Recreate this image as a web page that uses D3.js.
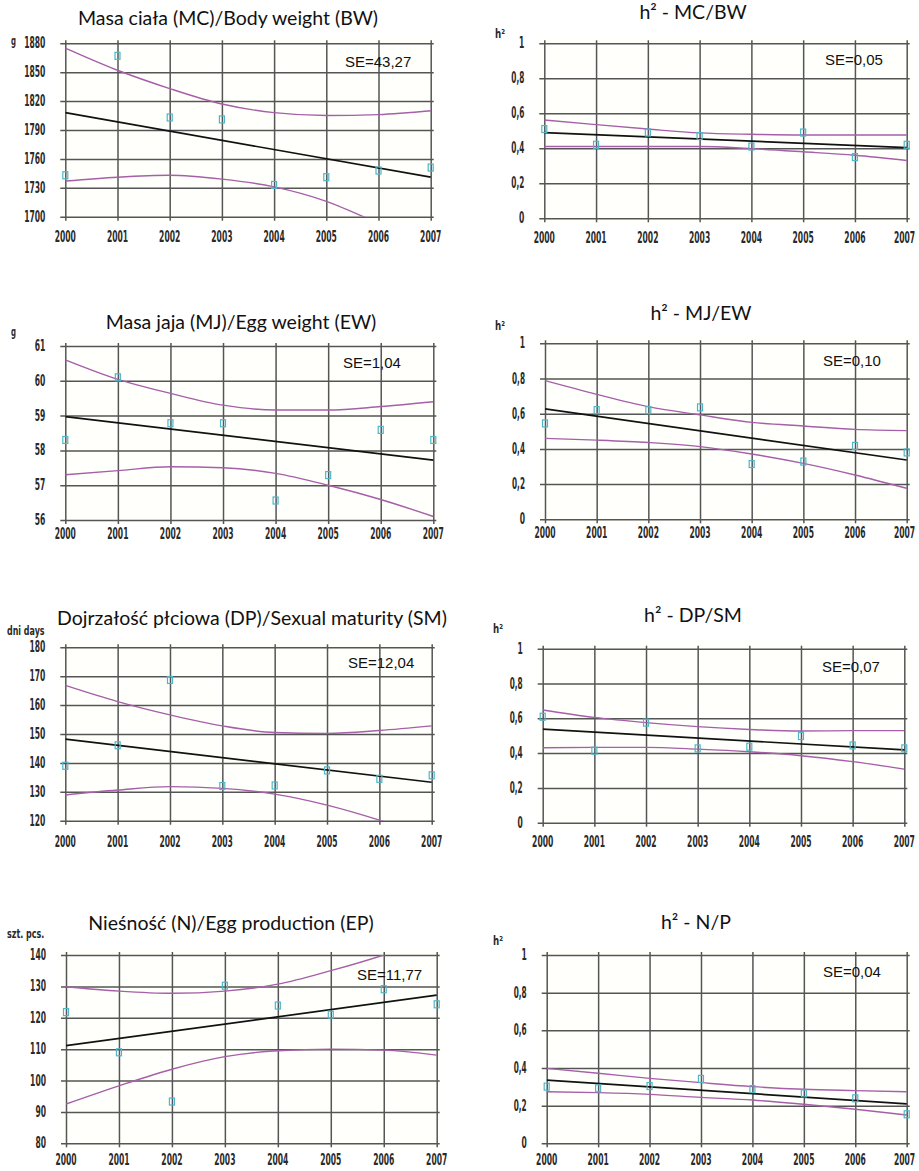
<!DOCTYPE html>
<html>
<head>
<meta charset="utf-8">
<script src="https://cdn.jsdelivr.net/npm/d3@7"></script>
<style>
  html, body { margin: 0; padding: 0; background: #ffffff; }
  svg { display: block; }
</style>
</head>
<body>
<svg id="chart" width="919" height="1171"></svg>
<script>
// ---------------- DATA ----------------
const years = [2000, 2001, 2002, 2003, 2004, 2005, 2006, 2007];
const trendYears = [2000, 2007];

// Body weight (g)
const bwTicks = [1700, 1730, 1760, 1790, 1820, 1850, 1880];
const bwPoints = [1743, 1867, 1803, 1801, 1733, 1741, 1748, 1751];
const bwTrend = [1808, 1741];
const bwUpper = [1875, 1852, 1833, 1817, 1808, 1805, 1806, 1810];
const bwLower = [1737, 1741, 1743, 1739, 1731, 1716, 1693, 1668];

// h2 body weight
const h2Ticks = [0, 0.2, 0.4, 0.6, 0.8, 1];
const h2bwPoints = [0.51, 0.42, 0.49, 0.47, 0.41, 0.49, 0.35, 0.42];
const h2bwTrend = [0.49, 0.404];
const h2bwUpper = [0.562, 0.535, 0.51, 0.488, 0.48, 0.476, 0.476, 0.476];
const h2bwLower = [0.41, 0.41, 0.41, 0.41, 0.398, 0.38, 0.36, 0.33];

// Egg weight (g)
const ewTicks = [56, 57, 58, 59, 60, 61];
const ewPoints = [58.3, 60.1, 58.78, 58.78, 56.56, 57.29, 58.59, 58.3];
const ewTrend = [58.97, 57.72];
const ewUpper = [60.6, 60.04, 59.64, 59.3, 59.16, 59.16, 59.26, 59.4];
const ewLower = [57.3, 57.42, 57.53, 57.5, 57.34, 57.0, 56.59, 56.1];

// h2 egg weight
const h2ewPoints = [0.545, 0.62, 0.62, 0.636, 0.314, 0.328, 0.417, 0.38];
const h2ewTrend = [0.627, 0.337];
const h2ewUpper = [0.788, 0.71, 0.64, 0.593, 0.551, 0.53, 0.511, 0.504];
const h2ewLower = [0.46, 0.45, 0.436, 0.413, 0.371, 0.318, 0.252, 0.176];

// Sexual maturity (days)
const smTicks = [120, 130, 140, 150, 160, 170, 180];
const smPoints = [139.0, 146.1, 168.7, 132.0, 132.2, 137.4, 134.5, 135.7];
const smTrend = [148.2, 133.3];
const smUpper = [166.8, 161.2, 156.6, 152.8, 150.5, 150.2, 151.2, 152.8];
const smLower = [128.9, 130.6, 131.8, 131.2, 129.2, 125.4, 120.2, 114.0];

// h2 sexual maturity
const h2smPoints = [0.609, 0.414, 0.575, 0.427, 0.437, 0.498, 0.444, 0.427];
const h2smTrend = [0.538, 0.418];
const h2smUpper = [0.648, 0.605, 0.575, 0.552, 0.536, 0.527, 0.529, 0.529];
const h2smLower = [0.431, 0.433, 0.433, 0.423, 0.408, 0.385, 0.351, 0.308];

// Egg production (pcs)
const epTicks = [80, 90, 100, 110, 120, 130, 140];
const epPoints = [121.8, 109.0, 93.3, 130.2, 123.9, 121.0, 129.1, 124.3];
const epTrend = [111.1, 127.2];
const epUpper = [129.9, 128.5, 127.8, 128.5, 130.7, 135.0, 140.0, 146.0];
const epLower = [92.5, 98.3, 103.6, 107.6, 109.5, 110.0, 109.7, 108.1];

// h2 egg production
const h2epPoints = [0.301, 0.292, 0.304, 0.342, 0.288, 0.265, 0.239, 0.154];
const h2epTrend = [0.336, 0.209];
const h2epUpper = [0.398, 0.372, 0.345, 0.322, 0.301, 0.287, 0.28, 0.274];
const h2epLower = [0.274, 0.269, 0.26, 0.244, 0.23, 0.207, 0.181, 0.15];

const titles = [
  "Masa ciała (MC)/Body weight (BW)", "h² - MC/BW",
  "Masa jaja (MJ)/Egg weight (EW)", "h² - MJ/EW",
  "Dojrzałość płciowa (DP)/Sexual maturity (SM)", "h² - DP/SM",
  "Nieśność (N)/Egg production (EP)", "h² - N/P"
];
const units = ["g", "h²", "g", "h²", "dni days", "h²", "szt. pcs.", "h²"];
const seLabels = ["SE=43,27", "SE=0,05", "SE=1,04", "SE=0,10", "SE=12,04", "SE=0,07", "SE=11,77", "SE=0,04"];

const series = [
  { ticks: bwTicks, points: bwPoints, trend: bwTrend, upper: bwUpper, lower: bwLower },
  { ticks: h2Ticks, points: h2bwPoints, trend: h2bwTrend, upper: h2bwUpper, lower: h2bwLower },
  { ticks: ewTicks, points: ewPoints, trend: ewTrend, upper: ewUpper, lower: ewLower },
  { ticks: h2Ticks, points: h2ewPoints, trend: h2ewTrend, upper: h2ewUpper, lower: h2ewLower },
  { ticks: smTicks, points: smPoints, trend: smTrend, upper: smUpper, lower: smLower },
  { ticks: h2Ticks, points: h2smPoints, trend: h2smTrend, upper: h2smUpper, lower: h2smLower },
  { ticks: epTicks, points: epPoints, trend: epTrend, upper: epUpper, lower: epLower },
  { ticks: h2Ticks, points: h2epPoints, trend: h2epTrend, upper: h2epUpper, lower: h2epLower }
];

// ---------------- LAYOUT ----------------
const layout = [
  { x0: 65.3, x1: 430.7, yT: 43.3, yB: 216.7, xl: 25, tx: 228, ty: 25, ux: 11, uy: 45, sx: 345, sy: 67 },
  { x0: 544.3, x1: 906.7, yT: 43.3, yB: 218.3, xl: 25, tx: 693, ty: 19, ux: 495, uy: 38, sx: 825, sy: 65 },
  { x0: 65.3, x1: 433.3, yT: 346, yB: 520, xl: 19, tx: 241, ty: 329, ux: 11, uy: 336, sx: 343, sy: 368 },
  { x0: 545, x1: 906.7, yT: 343.3, yB: 519.3, xl: 19, tx: 701, ty: 320, ux: 495, uy: 330, sx: 823, sy: 366 },
  { x0: 65.3, x1: 431.7, yT: 647.3, yB: 820.7, xl: 26, tx: 252, ty: 625, ux: 7, uy: 635, sx: 348, sy: 668 },
  { x0: 542.7, x1: 904.3, yT: 648.7, yB: 822.7, xl: 24, tx: 693, ty: 622, ux: 493, uy: 633, sx: 822, sy: 672 },
  { x0: 66, x1: 436.7, yT: 955, yB: 1143.3, xl: 22, tx: 231, ty: 930, ux: 7, uy: 938, sx: 357, sy: 980 },
  { x0: 546.7, x1: 906.7, yT: 955, yB: 1143.3, xl: 22, tx: 696, ty: 929, ux: 493, uy: 945, sx: 823, sy: 977 }
];

const svg = d3.select("#chart");
const gridColor = "#555555";
const ciColor = "#a65fa8";
const markColor = "#4fb6c9";
const tickFont = "'DejaVu Sans Condensed', 'Liberation Sans Narrow', sans-serif";
const fmtTick = d => String(d).replace(".", ",");
// target (condensed) label width: digits ~5.3px, punctuation ~2.4px
const labelWidth = t => Array.from(String(t)).reduce((w, c) => w + (/[0-9]/.test(c) ? 5.3 : (c === " " ? 2.6 : (/[,.]/.test(c) ? 2.4 : 5.0))), 0);

// place a horizontally-compressed text: anchor 'start' | 'middle' | 'end'
function condensedText(parent, str, px, py, anchor, size, target) {
  const t = parent.append("text")
    .attr("font-family", tickFont).attr("font-size", size).attr("font-weight", "bold")
    .attr("fill", "#2a2a2a").attr("text-anchor", anchor)
    .attr("x", 0).attr("y", 0).text(str);
  const w = t.node().getComputedTextLength() || target;
  const k = Math.min(1, target / w);
  t.attr("transform", `translate(${px},${py}) scale(${k},1)`);
  return t;
}

series.forEach((s, i) => {
  const L = layout[i];
  const x = d3.scaleLinear().domain([years[0], years[years.length - 1]]).range([L.x0, L.x1]);
  const y = d3.scaleLinear().domain([s.ticks[0], s.ticks[s.ticks.length - 1]]).range([L.yB, L.yT]);
  const g = svg.append("g");

  // very faint plot background
  g.append("rect")
    .attr("x", L.x0 - 8).attr("y", L.yT - 8)
    .attr("width", L.x1 - L.x0 + 14).attr("height", L.yB - L.yT + 14)
    .attr("fill", "#fffffb");

  const clipId = "clip" + i;
  svg.append("clipPath").attr("id", clipId)
    .append("rect").attr("x", L.x0).attr("y", L.yT)
    .attr("width", L.x1 - L.x0 + 1).attr("height", L.yB - L.yT);

  // horizontal grid (with tick stubs)
  const yAxis = d3.axisLeft(y).tickValues(s.ticks).tickFormat("");
  const ga = g.append("g").attr("transform", `translate(${L.x0 - 5},0)`).call(yAxis);
  ga.select(".domain").remove();
  ga.selectAll(".tick line").attr("stroke", gridColor).attr("stroke-width", 1.5)
    .attr("x1", 0).attr("x2", L.x1 - L.x0 + 8);

  // vertical grid
  const xAxis = d3.axisBottom(x).tickValues(years).tickFormat("");
  const gx = g.append("g").attr("transform", `translate(0,${L.yB + 4})`).call(xAxis);
  gx.select(".domain").remove();
  gx.selectAll(".tick line").attr("stroke", gridColor).attr("stroke-width", 1.5)
    .attr("y1", 0).attr("y2", -(L.yB - L.yT) - 7);

  // y tick labels
  s.ticks.forEach(d => {
    const str = fmtTick(d);
    condensedText(g, str, L.x0 - 20, y(d) + 5, "end", 15, labelWidth(str));
  });

  // x tick labels
  years.forEach(d => {
    condensedText(g, String(d), Math.min(x(d), 904.5), L.yB + L.xl, "middle", 15, labelWidth(d));
  });

  const plot = g.append("g").attr("clip-path", `url(#${clipId})`);
  const curve = d3.line().x((d, j) => x(years[j])).y(d => y(d)).curve(d3.curveMonotoneX);

  plot.append("path").datum(s.upper).attr("d", curve)
    .attr("fill", "none").attr("stroke", ciColor).attr("stroke-width", 1.4);
  plot.append("path").datum(s.lower).attr("d", curve)
    .attr("fill", "none").attr("stroke", ciColor).attr("stroke-width", 1.4);

  const tline = d3.line().x((d, j) => x(trendYears[j])).y(d => y(d));
  plot.append("path").datum(s.trend).attr("d", tline)
    .attr("fill", "none").attr("stroke", "#111").attr("stroke-width", 1.7);

  // markers
  g.selectAll(".pt").data(s.points).enter().append("rect")
    .attr("x", (d, j) => x(years[j]) - 2.5).attr("y", d => y(d) - 3.5)
    .attr("width", 5).attr("height", 7)
    .attr("fill", "none").attr("stroke", markColor).attr("stroke-width", 1.2);

  // title
  svg.append("text").attr("x", L.tx).attr("y", L.ty)
    .attr("text-anchor", "middle")
    .attr("font-family", "Lato, 'Open Sans', sans-serif").attr("font-size", 19.5)
    .attr("fill", "#111").text(titles[i]);

  // unit label
  condensedText(svg, units[i], L.ux, L.uy, "start", 13, labelWidth(units[i]));

  // SE label
  svg.append("text").attr("x", L.sx).attr("y", L.sy)
    .attr("font-family", "'Liberation Sans', Arial, sans-serif").attr("font-size", 15)
    .attr("fill", "#111").text(seLabels[i]);
});
</script>
</body>
</html>
